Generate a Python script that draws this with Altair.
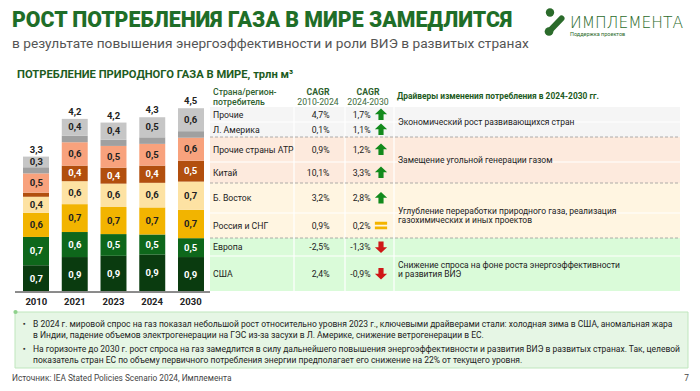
import altair as alt
import pandas as pd

# ---------------- data ----------------
YEARS = ["2010", "2021", "2023", "2024", "2030"]
SEGMENTS = ["США", "Европа", "Россия и СНГ", "Б. Восток", "Китай",
            "Прочие страны АТР", "Л. Америка", "Прочие"]
USA = [0.66, 0.86, 0.89, 0.92, 0.86]
EUROPE = [0.69, 0.61, 0.53, 0.49, 0.46]
RUSSIA = [0.59, 0.68, 0.66, 0.66, 0.69]
MEAST = [0.39, 0.56, 0.57, 0.60, 0.69]
CHINA = [0.10, 0.38, 0.39, 0.42, 0.51]
APAC = [0.47, 0.57, 0.53, 0.53, 0.56]
LATAM = [0.15, 0.16, 0.15, 0.16, 0.16]
OTHERS = [0.26, 0.41, 0.42, 0.49, 0.56]
SERIES = [USA, EUROPE, RUSSIA, MEAST, CHINA, APAC, LATAM, OTHERS]
TOTALS = ["3,3", "4,2", "4,2", "4,3", "4,5"]

TABLE_NAMES = ["Прочие", "Л. Америка", "Прочие страны АТР", "Китай",
               "Б. Восток", "Россия и СНГ", "Европа", "США"]
CAGR_2010_2024 = ["4,7%", "0,1%", "0,9%", "10,1%", "3,2%", "0,9%", "-2,5%", "2,4%"]
CAGR_2024_2030 = ["1,7%", "1,1%", "1,2%", "3,3%", "2,8%", "0,2%", "-1,3%", "-0,9%"]
TREND = ["up", "up", "up", "up", "up", "flat", "down", "down"]
ROW_GROUP = [0, 0, 1, 1, 2, 2, 3, 3]
DRIVERS = ["Экономический рост развивающихся стран",
           "Замещение угольной генерации газом",
           "Углубление переработки природного газа, реализация\nгазохимических и иных проектов",
           "Снижение спроса на фоне роста энергоэффективности\nи развития ВИЭ"]

TITLE = "РОСТ ПОТРЕБЛЕНИЯ ГАЗА В МИРЕ ЗАМЕДЛИТСЯ"
SUBTITLE = "в результате повышения энергоэффективности и роли ВИЭ в развитых странах"
SECTION = "ПОТРЕБЛЕНИЕ ПРИРОДНОГО ГАЗА В МИРЕ, трлн м³"
NOTES = [
    "В 2024 г. мировой спрос на газ показал небольшой рост относительно уровня 2023 г., ключевыми драйверами стали: холодная зима в США, аномальная жара",
    "в Индии, падение объемов электрогенерации на ГЭС из-за засухи в Л. Америке, снижение ветрогенерации в ЕС.",
    "На горизонте до 2030 г. рост спроса на газ замедлится в силу дальнейшего повышения энергоэффективности и развития ВИЭ в развитых странах. Так, целевой",
    "показатель стран ЕС по объему первичного потребления энергии предполагает его снижение на 22% от текущего уровня.",
]
SOURCE = "Источник: IEA Stated Policies Scenario 2024, Имплемента"

# ---------------- style / layout ----------------
FONT = "Roboto"
GREEN = "#1d5b22"
COLORS = ["#0a3b0f", "#0e671b", "#f2b400", "#fde2a3", "#b24f0e", "#f8a27d", "#a0a0a0", "#c6c6c6"]
LABEL_COLORS = ["white", "white", "#222222", "#222222", "white", "#222222", "#222222", "#222222"]
GROUP_FILL = ["#f5f5f5", "#fdeadd", "#fff5e1", "#dafbd9"]
ROW_HEIGHTS = [15, 15, 25, 21, 30, 25, 18, 35]


def P(v):  # page pixel -> chart pixel (8px page margin)
    return v - 8


def txt(text, x, y, size=9, color="#222222", weight="normal", align="left", font=FONT, **kw):
    return alt.Chart(pd.DataFrame({"t": [text]})).mark_text(
        align=align, baseline="middle", fontSize=size, color=color, fontWeight=weight, font=font, **kw
    ).encode(x=alt.value(x), y=alt.value(y), text="t:N")


layers = []

# ---------------- header ----------------
layers.append(txt(TITLE, P(12), P(21), size=21.3, color="#1f6e28", weight=900))
layers.append(txt(SUBTITLE, P(12), P(44), size=13.7, color="#555555"))
# logo
layers.append(alt.Chart(pd.DataFrame({"a": [0]})).mark_rule(
    color="#2b6b2b", strokeWidth=6, strokeCap="round").encode(
    x=alt.value(P(549.5)), x2=alt.value(P(561.5)), y=alt.value(P(31)), y2=alt.value(P(18.5))))
layers.append(alt.Chart(pd.DataFrame({"a": [0]})).mark_circle(color="#2b6b2b", opacity=1, size=70).encode(
    x=alt.value(P(550)), y=alt.value(P(12.5))))
layers.append(alt.Chart(pd.DataFrame({"a": [0]})).mark_circle(color="#2b6b2b", opacity=1, size=75).encode(
    x=alt.value(P(549)), y=alt.value(P(31.5))))
layers.append(txt("ИМПЛЕМЕНТА", P(570), P(23), size=15.5, color="#2b6b2b", weight=200, font="DejaVu Sans"))
layers.append(txt("Поддержка проектов", P(570), P(34), size=5.5, color="#2b6b2b"))

layers.append(txt(SECTION, P(17), P(75), size=11.2, color=GREEN, weight="bold"))

# ---------------- stacked bars ----------------
rows = []
for i, seg in enumerate(SEGMENTS):
    for j, yr in enumerate(YEARS):
        v = SERIES[i][j]
        rows.append(dict(year=yr, seg=seg, idx=i, value=v,
                         label=(f"{v:.1f}".replace(".", ",") if v >= 0.2 else ""),
                         lcol=LABEL_COLORS[i]))
bars_df = pd.DataFrame(rows)

XS = alt.Scale(domain=YEARS, range=[P(17), P(210)], paddingInner=0.33, paddingOuter=0.155)
YS = alt.Scale(domain=[0, 5], range=[P(292.3), P(292.3) - 205])

base = alt.Chart(bars_df).transform_stack(
    stack="value", groupby=["year"], as_=["v0", "v1"], sort=[alt.SortField("idx", order="ascending")]
)
layers.append(base.mark_bar().encode(
    x=alt.X("year:N", scale=XS, axis=None),
    y=alt.Y("v0:Q", scale=YS, axis=None), y2="v1:Q",
    color=alt.Color("seg:N", scale=alt.Scale(domain=SEGMENTS, range=COLORS), legend=None),
))
layers.append(base.transform_filter("datum.label != ''").transform_calculate(
    mid="(datum.v0 + datum.v1) / 2").mark_text(
    fontSize=9.5, fontWeight="bold", font=FONT).encode(
    x=alt.X("year:N", scale=XS, axis=None),
    y=alt.Y("mid:Q", scale=YS, axis=None),
    text="label:N",
    color=alt.Color("lcol:N", scale=None),
))
tot_df = pd.DataFrame({"year": YEARS, "total": [sum(s[j] for s in SERIES) for j in range(len(YEARS))],
                       "label": TOTALS})
layers.append(alt.Chart(tot_df).mark_text(fontSize=9.5, fontWeight="bold", font=FONT, dy=-7,
                                          color="#222222").encode(
    x=alt.X("year:N", scale=XS, axis=None), y=alt.Y("total:Q", scale=YS, axis=None), text="label:N"))
layers.append(alt.Chart(tot_df).mark_rule(color="#8a8a8a", strokeWidth=1.5).encode(
    x=alt.value(P(15)), x2=alt.value(P(210)), y=alt.Y(datum=0, scale=YS, axis=None)))
layers.append(alt.Chart(tot_df).mark_text(fontSize=9.5, fontWeight="bold", font=FONT, dy=10,
                                          color="#222222").encode(
    x=alt.X("year:N", scale=XS, axis=None), y=alt.Y(datum=0, scale=YS, axis=None), text="year:N"))

# ---------------- table ----------------
tops = []
acc = 0
for h in ROW_HEIGHTS:
    tops.append(acc)
    acc += h
TOTAL_U = acc
TY = alt.Scale(domain=[0, TOTAL_U], range=[P(107), P(107) + TOTAL_U])

tab_df = pd.DataFrame({
    "name": TABLE_NAMES, "c1": CAGR_2010_2024, "c2": CAGR_2024_2030, "trend": TREND,
    "grp": ROW_GROUP, "top": tops, "bot": [t + h for t, h in zip(tops, ROW_HEIGHTS)],
})
tab_df["mid"] = (tab_df["top"] + tab_df["bot"]) / 2

grp_df = tab_df.groupby("grp").agg(top=("top", "min"), bot=("bot", "max")).reset_index()
grp_df["fill"] = GROUP_FILL
grp_df["driver"] = DRIVERS
grp_df["mid"] = (grp_df["top"] + grp_df["bot"]) / 2

layers.append(alt.Chart(grp_df).mark_rect().encode(
    x=alt.value(P(210)), x2=alt.value(P(680)),
    y=alt.Y("top:Q", scale=TY, axis=None), y2="bot:Q",
    fill=alt.Fill("fill:N", scale=None)))
# white in-group separators
inner = tab_df[tab_df["grp"].duplicated(keep="first")]
layers.append(alt.Chart(inner).mark_rule(color="white", strokeWidth=1.2).encode(
    x=alt.value(P(210)), x2=alt.value(P(680)), y=alt.Y("top:Q", scale=TY, axis=None)))
# vertical white column separators
for xv in [P(294), P(345), P(394)]:
    layers.append(alt.Chart(grp_df.head(1)).mark_rule(color="white", strokeWidth=1.2).encode(
        x=alt.value(xv), y=alt.Y(datum=0, scale=TY, axis=None), y2=alt.Y2(datum=TOTAL_U)))
# dashed group separators
layers.append(alt.Chart(grp_df[grp_df["grp"] > 0]).mark_rule(
    color="#9a9a9a", strokeWidth=0.8, strokeDash=[3, 2]).encode(
    x=alt.value(P(210)), x2=alt.value(P(680)), y=alt.Y("top:Q", scale=TY, axis=None)))

# texts
tbase = alt.Chart(tab_df)
layers.append(tbase.mark_text(align="left", baseline="middle", fontSize=8.7, font=FONT, color="#222222").encode(
    x=alt.value(P(213)), y=alt.Y("mid:Q", scale=TY, axis=None), text="name:N"))
layers.append(tbase.mark_text(align="right", baseline="middle", fontSize=8.7, font=FONT, color="#222222").encode(
    x=alt.value(P(329.5)), y=alt.Y("mid:Q", scale=TY, axis=None), text="c1:N"))
layers.append(tbase.mark_text(align="right", baseline="middle", fontSize=8.7, font=FONT, color="#222222").encode(
    x=alt.value(P(370.5)), y=alt.Y("mid:Q", scale=TY, axis=None), text="c2:N"))

UP = "M0,-1 L1,-0.05 L0.42,-0.05 L0.42,0.9 L-0.42,0.9 L-0.42,-0.05 L-1,-0.05 Z"
DOWN = "M0,1 L1,0.05 L0.42,0.05 L0.42,-0.9 L-0.42,-0.9 L-0.42,0.05 L-1,0.05 Z"
EQ = "M-1,-0.6 L1,-0.6 L1,-0.12 L-1,-0.12 Z M-1,0.15 L1,0.15 L1,0.63 L-1,0.63 Z"
for tr, shp, col in [("up", UP, "#128a1c"), ("down", DOWN, "#cf1717"), ("flat", EQ, "#f4b400")]:
    layers.append(tbase.transform_filter(f"datum.trend == '{tr}'").mark_point(
        shape=shp, filled=True, opacity=1, color=col, size=150, strokeWidth=0).encode(
        x=alt.value(P(381)), y=alt.Y("mid:Q", scale=TY, axis=None)))

layers.append(alt.Chart(grp_df).mark_text(align="left", baseline="middle", fontSize=8.5, font=FONT,
                                          color="#222222", lineBreak="\n", lineHeight=9.5).encode(
    x=alt.value(P(398)), y=alt.Y("mid:Q", scale=TY, axis=None), text="driver:N"))

# table headers
layers.append(txt("Страна/регион-", P(213), P(92), size=8.7, color="#2e5f2e", weight=500))
layers.append(txt("потребитель", P(213), P(102), size=8.7, color="#2e5f2e", weight=500))
layers.append(txt("CAGR", P(318), P(92), size=8.7, color="#2e5f2e", weight="bold", align="center"))
layers.append(txt("2010-2024", P(318), P(102), size=8.7, color="#3d6b3d", align="center"))
layers.append(txt("CAGR", P(368), P(92), size=8.7, color="#2e5f2e", weight="bold", align="center"))
layers.append(txt("2024-2030", P(368), P(102), size=8.7, color="#3d6b3d", align="center"))
layers.append(txt("Драйверы изменения потребления в 2024-2030 гг.", P(397), P(96), size=8.4,
                  color=GREEN, weight="bold"))

# ---------------- notes box ----------------
box = pd.DataFrame({"a": [0]})
layers.append(alt.Chart(box).mark_rect(fill="#e6f6e5", stroke="#bfe6bd", strokeWidth=1).encode(
    x=alt.value(P(15)), x2=alt.value(P(688)), y=alt.value(P(312)), y2=alt.value(P(368))))
layers.append(alt.Chart(box).mark_circle(color="#8fd18c", opacity=1, size=18).encode(
    x=alt.value(P(15.5)), y=alt.value(P(312))))
note_y = [324, 335, 349, 360]
for k, line in enumerate(NOTES):
    layers.append(txt(line, P(33), P(note_y[k]), size=8.5, color="#222222"))
for yb in [324, 349]:
    layers.append(txt("▪", P(23), P(yb), size=7, color="#333333"))

layers.append(txt(SOURCE, P(12), P(378.5), size=8.3, color="#444444"))
layers.append(txt("7", P(689), P(378.5), size=8.3, color="#444444", align="right"))

chart = alt.layer(*layers).resolve_scale(
    x="independent", y="independent", color="independent", fill="independent"
).properties(
    width=684, height=375, padding=0, autosize=alt.AutoSizeParams(type="none"), background="white"
).configure_view(stroke=None)

chart.save("out.html", embed_options={"renderer": "svg", "actions": False})
